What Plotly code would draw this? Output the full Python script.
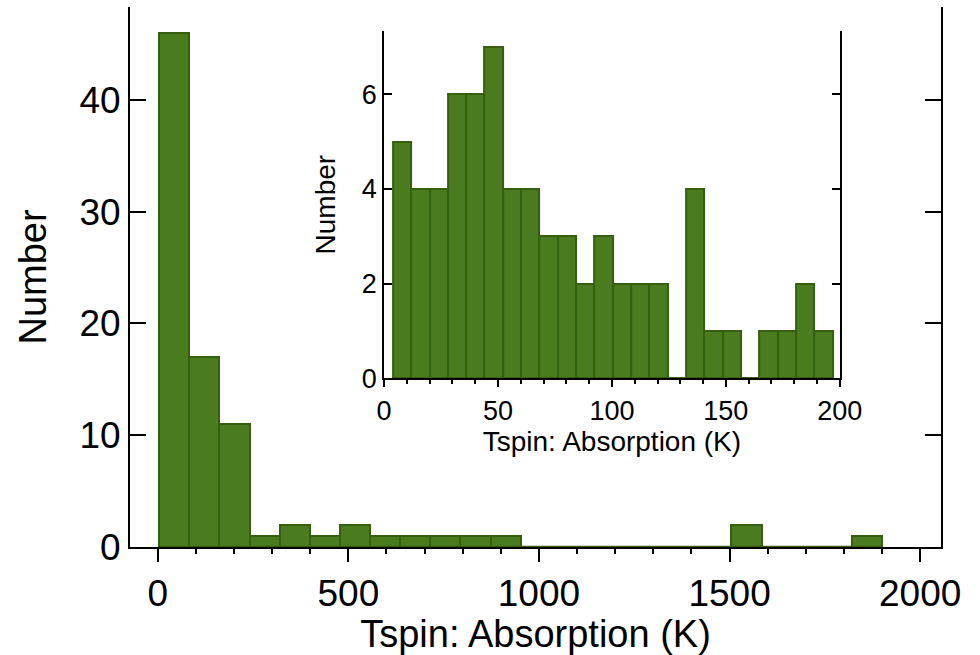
import plotly.graph_objects as go

# ---- Data ----
main_counts = [46, 17, 11, 1, 2, 1, 2, 1, 1, 1, 1, 1, 0, 0, 0, 0, 0, 0, 0, 2, 0, 0, 0, 1]
main_bin_start = 4.0
main_bin_width = 79.0

inset_counts = [5, 4, 4, 6, 6, 7, 4, 4, 3, 3, 2, 3, 2, 2, 2, 0, 4, 1, 1, 0, 1, 1, 2, 1]
inset_bin_start = 3.9
inset_bin_width = 8.04

x_title = "Tspin: Absorption (K)"
y_title = "Number"

FILL = "#4a7b1e"
EDGE = "#365f10"
FONT = "Liberation Sans, Arial, Helvetica, sans-serif"


def centers(start, width, n):
    return [start + width * (i + 0.5) for i in range(n)]


def edges(start, width, n):
    return [start, start + width * n]


fig = go.Figure()

# main histogram
fig.add_trace(go.Bar(
    x=centers(main_bin_start, main_bin_width, len(main_counts)),
    y=main_counts, width=main_bin_width,
    marker=dict(color=FILL, line=dict(color=EDGE, width=2)),
    xaxis="x", yaxis="y", showlegend=False, hoverinfo="skip"))
fig.add_trace(go.Scatter(
    x=edges(main_bin_start, main_bin_width, len(main_counts)), y=[0, 0],
    mode="lines", line=dict(color=EDGE, width=2.5),
    xaxis="x", yaxis="y", showlegend=False, hoverinfo="skip", cliponaxis=False))

# inset histogram
fig.add_trace(go.Bar(
    x=centers(inset_bin_start, inset_bin_width, len(inset_counts)),
    y=inset_counts, width=inset_bin_width,
    marker=dict(color=FILL, line=dict(color=EDGE, width=2)),
    xaxis="x3", yaxis="y3", showlegend=False, hoverinfo="skip"))
fig.add_trace(go.Scatter(
    x=edges(inset_bin_start, inset_bin_width, len(inset_counts)), y=[0, 0],
    mode="lines", line=dict(color=EDGE, width=2.5),
    xaxis="x3", yaxis="y3", showlegend=False, hoverinfo="skip", cliponaxis=False))

main_xrange = [-72.7, 2054.6]
main_yrange = [0, 48.3]
ins_xrange = [0, 200]
ins_yrange = [0, 7.34]

ins_xdom = [0.3133, 0.8752]
ins_ydom = [0.3124, 0.9556]

fig.update_layout(
    width=980, height=655,
    margin=dict(l=130, r=39, t=7, b=108),
    paper_bgcolor="white", plot_bgcolor="white",
    font=dict(family=FONT, color="black"),
    bargap=0,
    xaxis=dict(
        domain=[0, 1], anchor="y", range=main_xrange,
        tickmode="array", tickvals=[0, 500, 1000, 1500, 2000],
        ticks="outside", ticklen=13, tickwidth=2, tickcolor="black",
        minor=dict(tickmode="linear", tick0=0, dtick=100, ticks="outside",
                   ticklen=5, tickwidth=2, tickcolor="black"),
        showline=True, linewidth=2, linecolor="black", mirror=False,
        showgrid=False, zeroline=False,
        tickfont=dict(size=37),
        title=dict(text=x_title, font=dict(size=38), standoff=7),
    ),
    xaxis2=dict(
        overlaying="x", anchor="y", side="top", range=main_xrange,
        tickmode="array", tickvals=[0, 500, 1000, 1500, 2000],
        ticks="inside", ticklen=10, tickwidth=2, tickcolor="black",
        showticklabels=False,
        showline=True, linewidth=2, linecolor="black",
        showgrid=False, zeroline=False,
    ),
    yaxis=dict(
        domain=[0, 1], anchor="x", range=main_yrange,
        tickmode="array", tickvals=[0, 10, 20, 30, 40],
        ticks="inside", ticklen=16, tickwidth=2, tickcolor="black",
        showline=True, linewidth=2, linecolor="black", mirror="ticks",
        showgrid=False, zeroline=False,
        tickfont=dict(size=37),
        title=dict(text=y_title, font=dict(size=38), standoff=21),
    ),
    xaxis3=dict(
        domain=ins_xdom, anchor="y3", range=ins_xrange,
        tickmode="array", tickvals=[0, 50, 100, 150, 200],
        ticks="outside", ticklen=7, tickwidth=2, tickcolor="black",
        minor=dict(tickmode="linear", tick0=0, dtick=10, ticks="outside",
                   ticklen=4, tickwidth=2, tickcolor="black"),
        showline=True, linewidth=2, linecolor="black",
        showgrid=False, zeroline=False,
        tickfont=dict(size=27),
        title=dict(text=x_title, font=dict(size=28), standoff=3),
    ),
    xaxis4=dict(
        overlaying="x3", anchor="y3", side="top", range=ins_xrange,
        tickmode="array", tickvals=[0, 50, 100, 150, 200],
        ticks="inside", ticklen=6, tickwidth=2, tickcolor="black",
        showticklabels=False,
        showline=True, linewidth=2, linecolor="black",
        showgrid=False, zeroline=False,
    ),
    yaxis3=dict(
        domain=ins_ydom, anchor="x3", range=ins_yrange,
        tickmode="array", tickvals=[0, 2, 4, 6],
        ticks="inside", ticklen=8, tickwidth=2, tickcolor="black",
        showline=True, linewidth=2, linecolor="black", mirror="ticks",
        showgrid=False, zeroline=False,
        tickfont=dict(size=27),
        title=dict(text=y_title, font=dict(size=28), standoff=18),
    ),
)

fig.write_html("out.html")
